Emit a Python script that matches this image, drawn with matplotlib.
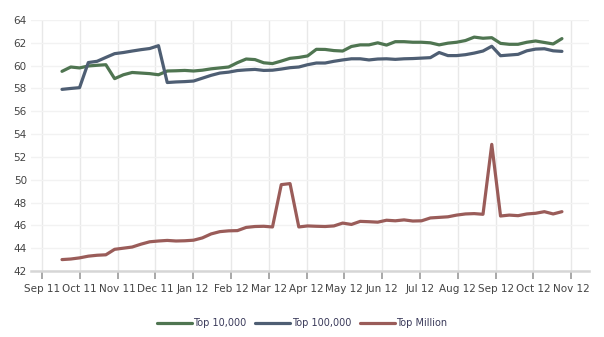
import matplotlib.pyplot as plt
import numpy as np

# weekly crawl results, share of pages (%)
top_10k = [
    59.50, 59.88, 59.80, 59.97, 60.03, 60.08, 58.86, 59.20, 59.40, 59.35,
    59.30, 59.20, 59.53, 59.55, 59.58, 59.53, 59.60, 59.72, 59.80, 59.88,
    60.26, 60.58, 60.53, 60.25, 60.18, 60.40, 60.64, 60.72, 60.85, 61.43,
    61.42, 61.32, 61.28, 61.68, 61.82, 61.82, 62.00, 61.80, 62.10, 62.10,
    62.05, 62.05, 62.00, 61.82, 61.97, 62.05, 62.20, 62.50, 62.40, 62.45,
    61.95, 61.87, 61.87, 62.05, 62.16, 62.03, 61.90, 62.37,
]
top_100k = [
    57.92, 58.00, 58.07, 60.27, 60.38, 60.72, 61.05, 61.15, 61.28, 61.40,
    61.50, 61.75, 58.52, 58.57, 58.60, 58.65, 58.90, 59.15, 59.35, 59.43,
    59.57, 59.63, 59.67, 59.58, 59.60, 59.70, 59.82, 59.88, 60.08, 60.23,
    60.23, 60.38, 60.50, 60.60, 60.60, 60.50, 60.58, 60.60, 60.55, 60.60,
    60.62, 60.66, 60.70, 61.15, 60.88, 60.88, 60.96, 61.10, 61.28, 61.70,
    60.87, 60.93, 60.99, 61.30, 61.45, 61.48, 61.30, 61.25,
]
top_million = [
    43.00, 43.05, 43.15, 43.30, 43.38, 43.42, 43.90, 44.00, 44.10, 44.35,
    44.56, 44.63, 44.68, 44.63, 44.65, 44.70, 44.90, 45.25, 45.45, 45.52,
    45.54, 45.82, 45.90, 45.92, 45.86, 49.57, 49.66, 45.86, 45.95, 45.92,
    45.90, 45.95, 46.20, 46.08, 46.35, 46.32, 46.28, 46.45, 46.40, 46.48,
    46.38, 46.40, 46.65, 46.70, 46.75, 46.90, 47.00, 47.03, 46.97, 53.10,
    46.82, 46.90, 46.85, 47.00, 47.06, 47.20, 47.00, 47.20,
]
month_labels = ["Sep 11", "Oct 11", "Nov 11", "Dec 11", "Jan 12", "Feb 12",
                "Mar 12", "Apr 12", "May 12", "Jun 12", "Jul 12", "Aug 12",
                "Sep 12", "Oct 12", "Nov 12"]

series = [
    ("Top 10,000", top_10k, "#4f7551"),
    ("Top 100,000", top_100k, "#4e5e73"),
    ("Top Million", top_million, "#9a5c59"),
]

# x in month units, first crawl about half way through Sep 11, one per week
weeks = np.arange(len(top_10k))
x = 0.53 + weeks * 0.232

fig = plt.figure(figsize=(6.04, 3.37), dpi=100)
ax = fig.add_axes([31 / 604, 66 / 337, 558 / 604, 251 / 337])

for label, values, color in series:
    ax.plot(x, values, color=color, lw=2.3, label=label,
            solid_joinstyle="round", solid_capstyle="round")

ax.set_xlim(-0.29, 14.47)
ax.set_ylim(42, 64)
ax.set_yticks(np.arange(42, 65, 2))
ax.set_xticks(np.arange(len(month_labels)))
ax.set_xticklabels(month_labels)

ax.grid(axis="y", color="#f2f2f2", lw=1)
ax.grid(axis="x", color="#e8e8e8", lw=1)
ax.set_axisbelow(True)

for side in ("top", "right", "left"):
    ax.spines[side].set_visible(False)
ax.spines["bottom"].set_color("#d6d6d6")
ax.spines["bottom"].set_linewidth(1.8)

ax.tick_params(axis="y", length=0, pad=3, labelsize=7.5, labelcolor="#444444")
ax.tick_params(axis="x", length=6, width=1.4, color="#a8a8a8", pad=3,
               labelsize=7.5, labelcolor="#444444")

fig.legend(loc="lower center", bbox_to_anchor=(0.5, 0.0), ncol=3,
           frameon=False, fontsize=7, handlelength=3.6, handletextpad=0.15,
           columnspacing=0.9, labelcolor="#3a3a5a")

fig.savefig("out.png", dpi=100)
